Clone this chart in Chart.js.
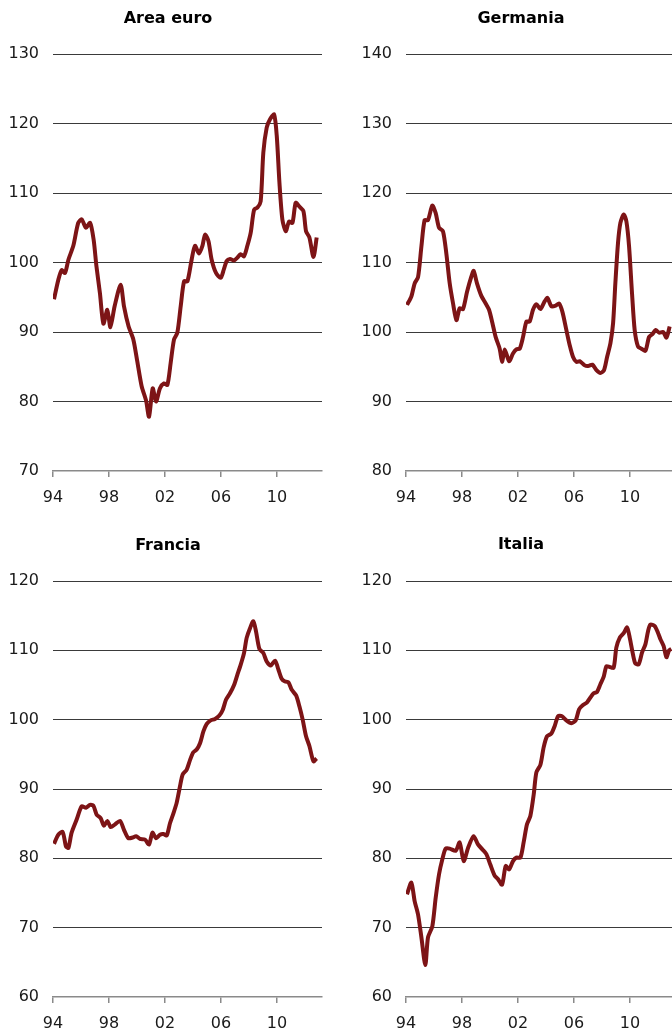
<!DOCTYPE html>
<html>
<head>
<meta charset="utf-8">
<script src="https://cdn.jsdelivr.net/npm/chart.js@4.4.1/dist/chart.umd.min.js"></script>
<style>
  body { margin: 0; width: 672px; height: 1030px; overflow: hidden; position: relative; background: #fff; }
  .panel { position: absolute; width: 336px; height: 515px; }
  .panel canvas { position: absolute; left: 0; top: 0; }
  .title { position: absolute; left: 0; width: 336px; text-align: center; font: bold 16px 'DejaVu Sans', Verdana, sans-serif; line-height: 20px; color: #000; }
</style>
</head>
<body>
<div class="panel" style="left:0;top:0"><canvas id="euroChart" width="336" height="515"></canvas><div class="title" style="top:8px">Area euro</div></div>
<div class="panel" style="left:353px;top:0"><canvas id="gerChart" width="336" height="515"></canvas><div class="title" style="top:8px">Germania</div></div>
<div class="panel" style="left:0;top:515px"><canvas id="fraChart" width="336" height="515"></canvas><div class="title" style="top:20px">Francia</div></div>
<div class="panel" style="left:353px;top:515px"><canvas id="itaChart" width="336" height="515"></canvas><div class="title" style="top:19px">Italia</div></div>

<script>
// x axis ticks (years) and their labels
const tickYears = [1994, 1998, 2002, 2006, 2010];
const tickLabels = ['94', '98', '02', '06', '10'];

// Area euro
const euroX = [1994.07, 1994.38, 1994.62, 1994.86, 1995.1, 1995.45, 1995.8, 1996.05, 1996.35, 1996.65, 1996.9,
  1997.1, 1997.35, 1997.6, 1997.88, 1998.1, 1998.4, 1998.83, 1999.07, 1999.4, 1999.74, 2000.0, 2000.33, 2000.64,
  2000.86, 2001.12, 2001.36, 2001.64, 2001.93, 2002.17, 2002.4, 2002.64, 2002.88, 2003.12, 2003.36, 2003.6,
  2003.9, 2004.14, 2004.43, 2004.67, 2004.86, 2005.1, 2005.33, 2005.64, 2005.98, 2006.2, 2006.4, 2006.64,
  2006.93, 2007.17, 2007.4, 2007.64, 2007.88, 2008.12, 2008.36, 2008.6, 2008.83, 2009.02, 2009.26, 2009.5,
  2009.79, 2009.98, 2010.17, 2010.38, 2010.62, 2010.86, 2011.1, 2011.33, 2011.57, 2011.88, 2012.07, 2012.31,
  2012.6, 2012.83];
const euroY = [94.7, 97.5, 98.9, 98.5, 100.4, 102.4, 105.7, 106.2, 105.0, 105.7, 103.3,
  99.5, 95.6, 91.2, 93.2, 90.7, 93.7, 96.8, 93.7, 90.8, 88.9, 86.0, 82.2, 80.2,
  77.8, 81.9, 80.0, 81.9, 82.6, 82.4, 85.5, 88.9, 89.9, 93.7, 97.3, 97.3,
  100.4, 102.4, 101.3, 102.4, 104.0, 103.1, 100.4, 98.5, 97.8, 99.0, 100.2, 100.5,
  100.3, 100.7, 101.2, 100.9, 102.4, 104.3, 107.6, 107.9, 108.8, 115.8, 119.4, 120.6,
  121.3, 118.2, 111.5, 106.2, 104.5, 105.9, 105.7, 108.6, 108.1, 107.4, 104.5, 103.6,
  100.8, 103.6];

// Germania
const gerX = [1994.07, 1994.38, 1994.62, 1994.86, 1995.1, 1995.33, 1995.57, 1995.88, 1996.12, 1996.36, 1996.64,
  1996.88, 1997.12, 1997.36, 1997.6, 1997.83, 1998.07, 1998.36, 1998.67, 1998.83, 1999.07, 1999.38, 1999.69,
  1999.93, 2000.17, 2000.4, 2000.69, 2000.86, 2001.05, 2001.36, 2001.64, 2001.88, 2002.12, 2002.36, 2002.6,
  2002.83, 2003.07, 2003.31, 2003.6, 2003.9, 2004.1, 2004.38, 2004.69, 2004.93, 2005.17, 2005.45, 2005.69,
  2005.93, 2006.17, 2006.4, 2006.76, 2007.0, 2007.31, 2007.6, 2007.88, 2008.14, 2008.36, 2008.6, 2008.79,
  2008.95, 2009.14, 2009.31, 2009.55, 2009.74, 2009.93, 2010.14, 2010.33, 2010.57, 2010.81, 2011.1, 2011.36,
  2011.6, 2011.83, 2012.07, 2012.36, 2012.6, 2012.83];
const gerY = [103.9, 105.1, 107.0, 107.9, 112.3, 116.1, 116.1, 118.2, 117.1, 115.0, 114.5,
  111.3, 107.0, 104.1, 101.7, 103.4, 103.3, 105.8, 108.0, 108.8, 107.0, 105.2, 104.1,
  103.2, 101.3, 99.3, 97.6, 95.7, 97.5, 95.8, 96.9, 97.5, 97.6, 99.3, 101.5,
  101.5, 103.2, 104.0, 103.3, 104.4, 104.9, 103.7, 103.8, 104.1, 102.9, 100.3, 98.1,
  96.4, 95.7, 95.8, 95.2, 95.1, 95.3, 94.5, 94.1, 94.5, 96.4, 98.4, 101.3,
  107.0, 112.8, 115.7, 116.9, 115.9, 112.3, 105.6, 100.3, 97.9, 97.6, 97.3, 99.3,
  99.7, 100.3, 99.9, 100.0, 99.2, 100.8];

// Francia
const fraX = [1994.07, 1994.38, 1994.69, 1994.93, 1995.1, 1995.33, 1995.69, 1996.05, 1996.36, 1996.64, 1996.88,
  1997.12, 1997.4, 1997.64, 1997.88, 1998.12, 1998.43, 1998.79, 1999.07, 1999.38, 1999.69, 1999.93, 2000.21,
  2000.57, 2000.86, 2001.1, 2001.36, 2001.64, 2001.88, 2002.12, 2002.36, 2002.6, 2002.83, 2003.07, 2003.26,
  2003.55, 2003.79, 2004.02, 2004.26, 2004.5, 2004.74, 2004.98, 2005.26, 2005.57, 2005.88, 2006.12, 2006.36,
  2006.64, 2006.93, 2007.17, 2007.4, 2007.64, 2007.83, 2008.07, 2008.31, 2008.5, 2008.74, 2009.02, 2009.26,
  2009.55, 2009.86, 2010.1, 2010.33, 2010.57, 2010.81, 2011.05, 2011.36, 2011.6, 2011.83, 2012.07, 2012.31,
  2012.6, 2012.83];
const fraY = [82.1, 83.4, 83.8, 81.7, 81.5, 83.7, 85.6, 87.5, 87.3, 87.7, 87.6,
  86.3, 85.8, 84.7, 85.4, 84.5, 84.9, 85.4, 84.1, 82.9, 83.0, 83.2, 82.8,
  82.7, 82.0, 83.7, 82.9, 83.4, 83.5, 83.3, 85.1, 86.5, 88.0, 90.4, 92.1,
  92.8, 94.2, 95.3, 95.7, 96.6, 98.3, 99.4, 99.9, 100.1, 100.6, 101.4, 102.9,
  103.8, 105.0, 106.5, 107.9, 109.6, 111.8, 113.2, 114.2, 112.7, 110.2, 109.6, 108.4,
  107.8, 108.5, 107.2, 105.9, 105.5, 105.4, 104.3, 103.5, 101.9, 100.0, 97.6, 96.2,
  94.0, 94.4];

// Italia
const itaX = [1994.07, 1994.38, 1994.62, 1994.86, 1995.1, 1995.38, 1995.57, 1995.88, 1996.12, 1996.36, 1996.6,
  1996.83, 1997.12, 1997.55, 1997.83, 1998.12, 1998.43, 1998.83, 1999.14, 1999.45, 1999.74, 2000.02, 2000.33,
  2000.57, 2000.86, 2001.12, 2001.36, 2001.64, 2001.88, 2002.17, 2002.4, 2002.64, 2002.88, 2003.12, 2003.31,
  2003.6, 2003.83, 2004.07, 2004.38, 2004.62, 2004.86, 2005.14, 2005.45, 2005.81, 2006.12, 2006.36, 2006.64,
  2006.93, 2007.17, 2007.4, 2007.64, 2007.88, 2008.12, 2008.31, 2008.55, 2008.83, 2009.02, 2009.26, 2009.55,
  2009.79, 2009.98, 2010.21, 2010.38, 2010.62, 2010.86, 2011.1, 2011.29, 2011.45, 2011.76, 2012.0, 2012.17,
  2012.4, 2012.6, 2012.79, 2012.95];
const itaY = [74.8, 76.5, 73.8, 71.9, 68.6, 64.6, 68.6, 70.2, 74.3, 77.7, 79.9,
  81.4, 81.4, 81.1, 82.3, 79.6, 81.5, 83.2, 82.0, 81.3, 80.6, 79.1, 77.5,
  77.0, 76.2, 78.9, 78.4, 79.6, 80.1, 80.1, 82.3, 84.9, 86.1, 89.2, 92.4,
  93.5, 96.0, 97.6, 98.0, 99.1, 100.5, 100.5, 99.9, 99.5, 99.9, 101.5, 102.1,
  102.5, 103.2, 103.8, 104.0, 105.1, 106.2, 107.7, 107.6, 107.5, 110.4, 111.8, 112.5,
  113.3, 111.8, 109.4, 108.1, 108.0, 109.7, 110.9, 112.8, 113.7, 113.5, 112.5, 111.6,
  110.6, 109.0, 110.0, 110.2];

const LINE_COLOR = '#7d1416';
const FONT = "'DejaVu Sans', Verdana, sans-serif";

function makePanel(id, xs, ys, yMin, yMax, areaTop, xAxisH) {
    const ctx = document.getElementById(id).getContext('2d');
    return new Chart(ctx, {
        type: 'line',
        data: {
            datasets: [{
                data: xs.map((x, i) => ({ x: x, y: ys[i] })),
                borderColor: LINE_COLOR,
                borderWidth: 4,
                pointRadius: 0,
                tension: 0.25,
                fill: false
            }]
        },
        options: {
            responsive: false,
            animation: false,
            // plot area runs 53..322 horizontally
            layout: { padding: { left: 0, right: 14, top: areaTop, bottom: 0 } },
            scales: {
                x: {
                    type: 'linear',
                    min: 1994,
                    max: 2013.21,
                    afterBuildTicks: s => { s.ticks = tickYears.map(v => ({ value: v })); },
                    afterFit: s => { s.height = xAxisH; },
                    ticks: {
                        callback: (v, i) => tickLabels[i],
                        font: { family: FONT, size: 16 },
                        color: '#1a1a1a',
                        padding: 11,
                        maxRotation: 0,
                        autoSkip: false
                    },
                    grid: { drawOnChartArea: false, drawTicks: true, tickLength: 6, color: '#8a8a8a', lineWidth: 1.5 },
                    border: { display: true, color: '#8a8a8a', width: 1.5 }
                },
                y: {
                    min: yMin,
                    max: yMax,
                    afterFit: s => { s.width = 53; },
                    ticks: {
                        stepSize: 10,
                        font: { family: FONT, size: 16 },
                        color: '#1a1a1a',
                        padding: 14
                    },
                    grid: {
                        drawTicks: false,
                        color: c => c.tick.value === yMin ? 'rgba(0,0,0,0)' : '#3a3a3a',
                        lineWidth: 1
                    },
                    border: { display: false }
                }
            },
            plugins: {
                legend: { display: false },
                tooltip: { enabled: false }
            }
        }
    });
}

makePanel('euroChart', euroX, euroY, 70, 130, 54, 44);
makePanel('gerChart', gerX, gerY, 80, 140, 54, 44);
makePanel('fraChart', fraX, fraY, 60, 120, 66, 33);
makePanel('itaChart', itaX, itaY, 60, 120, 66, 33);
</script>
</body>
</html>
